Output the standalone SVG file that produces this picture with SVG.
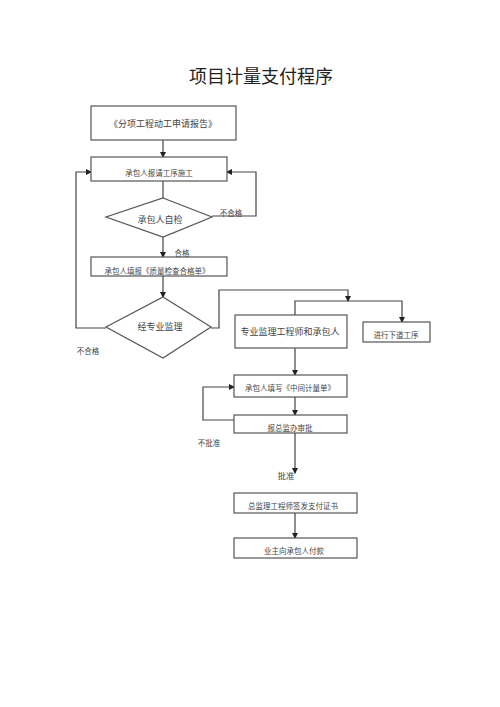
<svg xmlns="http://www.w3.org/2000/svg" width="500" height="707" viewBox="0 0 500 707">
<defs>
<marker id="ah" markerWidth="6" markerHeight="6" refX="5" refY="3" orient="auto" markerUnits="userSpaceOnUse">
<path d="M0,0 L6,3 L0,6 Z" fill="#222"/>
</marker>
<style>
.box{fill:#fff;stroke:#555;stroke-width:1.2}
.ln{fill:none;stroke:#444;stroke-width:1.2}
.t{font-family:"Noto Sans CJK SC","Noto Sans CJK JP",serif;fill:#444;text-anchor:middle;dominant-baseline:central}
.s{font-size:7.5px}
.m{font-size:9px}
</style>
</defs>
<rect width="500" height="707" fill="#fff"/>
<text x="261" y="75" class="t" style="font-size:18px;fill:#222;font-family:'Noto Sans CJK SC',sans-serif">项目计量支付程序</text>

<g id="connectors">
<line class="ln" x1="163" y1="140" x2="163" y2="157" marker-end="url(#ah)"/>
<line class="ln" x1="163" y1="181" x2="163" y2="198"/>
<polyline class="ln" points="212,216 256,216 256,172 227,172" marker-end="url(#ah)"/>
<line class="ln" x1="163" y1="237" x2="163" y2="257" marker-end="url(#ah)"/>
<line class="ln" x1="163" y1="276" x2="163" y2="297" marker-end="url(#ah)"/>
<polyline class="ln" points="106,328 76,328 76,172 91,172" marker-end="url(#ah)"/>
<polyline class="ln" points="211,328 219,328 219,290 348,290 348,301" marker-end="url(#ah)"/>
<polyline class="ln" points="295,315 295,301 402,301 402,322" marker-end="url(#ah)"/>
<line class="ln" x1="295" y1="348" x2="295" y2="375" marker-end="url(#ah)"/>
<line class="ln" x1="295" y1="397" x2="295" y2="415" marker-end="url(#ah)"/>
<polyline class="ln" points="234,420 203,420 203,387 234,387" marker-end="url(#ah)"/>
<line class="ln" x1="295" y1="433" x2="295" y2="473" marker-end="url(#ah)"/>
<line class="ln" x1="295" y1="513" x2="295" y2="538" marker-end="url(#ah)"/>
</g>

<g id="n1"><rect class="box" x="91" y="106" width="145" height="34"/><text class="t m" x="163" y="123">《分项工程动工申请报告》</text></g>
<g id="n2"><rect class="box" x="91" y="157" width="136" height="24"/><text class="t s" x="159" y="172">承包人报请工序施工</text></g>
<g id="n3"><polygon class="box" points="163,198 212,217 163,237 106,217"/><text class="t m" x="160" y="219">承包人自检</text></g>
<text class="t s" x="231" y="212">不合格</text>
<text class="t s" x="182" y="252">合格</text>
<g id="n4"><rect class="box" x="91" y="257" width="136" height="19"/><text class="t s" x="157" y="270">承包人填报《质量检查合格单》</text></g>
<g id="n5"><polygon class="box" points="163,297 211,327 163,358 106,327"/><text class="t m" x="160" y="326">经专业监理</text></g>
<text class="t s" x="88" y="350">不合格</text>
<g id="n6"><rect class="box" x="235" y="315" width="112" height="33"/><text class="t m" x="290" y="331">专业监理工程师和承包人</text></g>
<g id="n7"><rect class="box" x="363" y="322" width="67" height="20"/><text class="t s" x="396" y="334">进行下道工序</text></g>
<g id="n8"><rect class="box" x="234" y="375" width="113" height="22"/><text class="t s" x="290" y="387">承包人填写《中间计量单》</text></g>
<g id="n9"><rect class="box" x="234" y="415" width="113" height="18"/><text class="t s" x="290" y="427">报总监办审批</text></g>
<text class="t s" x="209" y="442">不批准</text>
<text class="t s" x="286" y="475" style="font-size:8.5px">批准</text>
<g id="n10"><rect class="box" x="234" y="493" width="123" height="20"/><text class="t s" x="293" y="505">总监理工程师签发支付证书</text></g>
<g id="n11"><rect class="box" x="234" y="538" width="123" height="20"/><text class="t s" x="294" y="550">业主向承包人付款</text></g>
</svg>
